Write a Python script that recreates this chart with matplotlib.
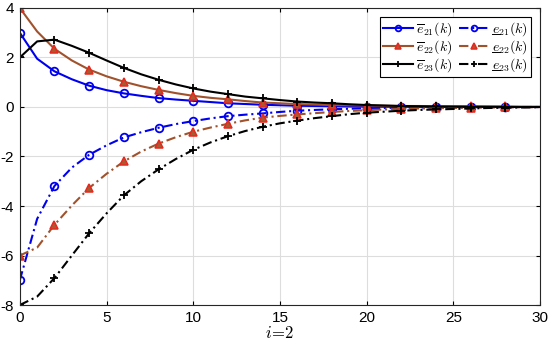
import matplotlib
matplotlib.use("Agg")
import matplotlib.pyplot as plt
from matplotlib.lines import Line2D
import numpy as np

plt.rcParams["font.family"] = ["Liberation Sans", "DejaVu Sans"]
plt.rcParams["mathtext.fontset"] = "cm"
plt.rcParams["axes.unicode_minus"] = False

k = np.arange(0, 31)

# upper bounds (solid)
e21_up = [3.0, 1.95, 1.44, 1.12, 0.86, 0.68, 0.55, 0.45, 0.36, 0.30, 0.25, 0.20, 0.15, 0.12, 0.09, 0.07,
          0.05, 0.04, 0.03, 0.02, 0.015, 0.01, 0.01, 0.005, 0.005, 0.0, 0.0, 0.0, 0.0, 0.0, 0.0]
e22_up = [4.0, 3.05, 2.35, 1.88, 1.51, 1.24, 1.02, 0.84, 0.69, 0.56, 0.45, 0.37, 0.31, 0.24, 0.18, 0.15,
          0.12, 0.10, 0.08, 0.07, 0.06, 0.05, 0.04, 0.04, 0.03, 0.03, 0.03, 0.02, 0.02, 0.01, 0.01]
e23_up = [2.0, 2.65, 2.72, 2.47, 2.19, 1.88, 1.58, 1.32, 1.10, 0.91, 0.75, 0.62, 0.52, 0.42, 0.35, 0.28,
          0.22, 0.18, 0.15, 0.11, 0.08, 0.06, 0.04, 0.03, 0.02, 0.015, 0.01, 0.01, 0.005, 0.0, 0.0]

# lower bounds (dash-dot)
e21_lo = [-7.0, -4.52, -3.19, -2.45, -1.93, -1.55, -1.23, -1.02, -0.84, -0.69, -0.57, -0.46, -0.37, -0.31,
          -0.26, -0.20, -0.15, -0.12, -0.09, -0.07, -0.05, -0.04, -0.03, -0.02, -0.015, -0.01, -0.01,
          -0.005, -0.005, 0.0, 0.0]
e22_lo = [-6.0, -5.68, -4.76, -3.98, -3.27, -2.70, -2.20, -1.80, -1.48, -1.22, -1.00, -0.83, -0.68, -0.54,
          -0.43, -0.36, -0.30, -0.25, -0.20, -0.16, -0.13, -0.10, -0.08, -0.06, -0.05, -0.04, -0.03,
          -0.02, -0.015, -0.01, -0.005]
e23_lo = [-8.0, -7.66, -6.91, -6.0, -5.10, -4.30, -3.57, -3.0, -2.52, -2.10, -1.73, -1.43, -1.18, -0.97,
          -0.80, -0.66, -0.55, -0.45, -0.37, -0.29, -0.23, -0.19, -0.15, -0.12, -0.10, -0.08, -0.06,
          -0.04, -0.03, -0.02, -0.01]

BLUE = "#0000F0"
BROWN = "#A0522D"
BLACK = "#000000"
marks = list(range(0, 29, 2))
DASHDOT = (0, (4.5, 1.8, 1.0, 1.8))

fig = plt.figure(figsize=(5.5, 3.47), dpi=100)
ax = fig.add_axes([0.036, 0.121, 0.946, 0.856])

tri = dict(marker="^", markersize=6, markerfacecolor="#A85A30", markeredgecolor="#E8281E", markeredgewidth=1.1)
circ = dict(marker="o", markersize=5.5, markerfacecolor="none", markeredgecolor=BLUE, markeredgewidth=1.3)
plus = dict(marker="+", markersize=6, markeredgecolor=BLACK, markeredgewidth=1.3)

# mathtext has no \underline: lower-bound labels get a hand-drawn bar below the "e"
ax.plot(k, e21_up, "-", color=BLUE, lw=1.5, markevery=marks, label=r"$\overline{e}_{21}(k)$", **circ)
ax.plot(k, e21_lo, ls=DASHDOT, color=BLUE, lw=1.5, markevery=marks, label=r"$e_{21}(k)$", **circ)
ax.plot(k, e22_up, "-", color=BROWN, lw=1.5, markevery=marks, label=r"$\overline{e}_{22}(k)$", **tri)
ax.plot(k, e22_lo, ls=DASHDOT, color=BROWN, lw=1.5, markevery=marks, label=r"$e_{22}(k)$", **tri)
ax.plot(k, e23_up, "-", color=BLACK, lw=1.5, markevery=marks, label=r"$\overline{e}_{23}(k)$", **plus)
ax.plot(k, e23_lo, ls=DASHDOT, color=BLACK, lw=1.5, markevery=marks, label=r"$e_{23}(k)$", **plus)

ax.set_xlim(0, 30)
ax.set_ylim(-8, 4)
ax.set_xticks(range(0, 31, 5))
ax.set_yticks(range(-8, 5, 2))
ax.tick_params(direction="in", top=True, right=True, labelsize=11, length=3, pad=4)
ax.grid(True, color="#DDDDDD", lw=0.8)
ax.set_axisbelow(True)
for s in ax.spines.values():
    s.set_color("#262626")
    s.set_linewidth(0.8)
ax.set_xlabel(r"$i\!=\!2$", fontsize=12, labelpad=0)

handles, labels = ax.get_legend_handles_labels()
order = [0, 2, 4, 1, 3, 5]
leg = ax.legend([handles[i] for i in order], [labels[i] for i in order], ncol=2, loc="upper right",
                fontsize=10, fancybox=False, edgecolor="black", framealpha=1, handlelength=2.1,
                handletextpad=0.25, columnspacing=0.5, labelspacing=0.0, borderpad=0.25,
                borderaxespad=0.65, markerscale=0.75)
leg.get_frame().set_linewidth(0.8)

fig.canvas.draw()
r = fig.canvas.get_renderer()
for t in leg.get_texts()[3:]:
    bb = t.get_window_extent(r)
    fp = t.get_fontproperties()
    w_e, _, _ = r.get_text_width_height_descent(r"$e$", fp, ismath=True)
    _, _, desc = r.get_text_width_height_descent(t.get_text(), fp, ismath=True)
    y = bb.y0 + desc - 1.6
    x0 = bb.x0 + 0.5
    x1 = bb.x0 + w_e + 0.5
    (fx0, fy), (fx1, _) = fig.transFigure.inverted().transform([(x0, y), (x1, y)])
    fig.add_artist(Line2D([fx0, fx1], [fy, fy], color="black", lw=0.7, zorder=10))

fig.savefig("out.png", dpi=100)
